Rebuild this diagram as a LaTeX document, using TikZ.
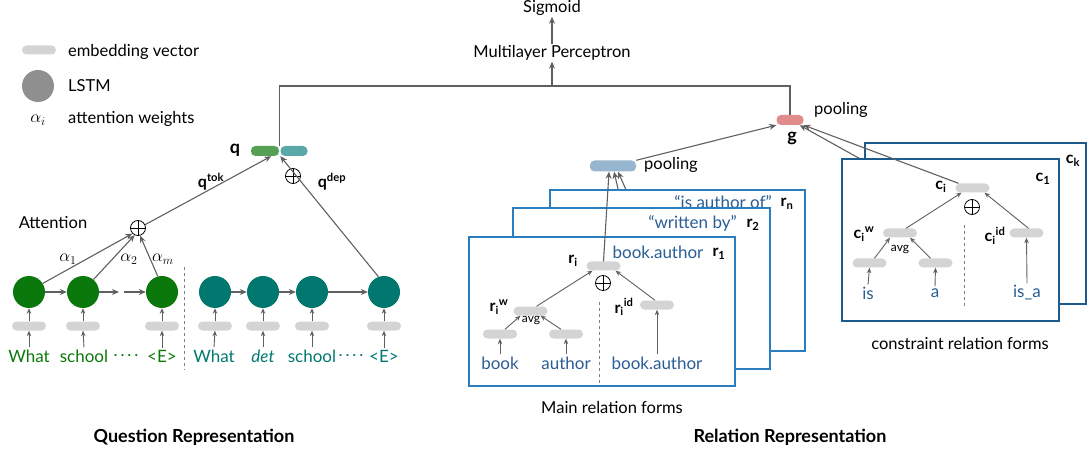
\documentclass[tikz,border=0pt]{standalone}
\usepackage{fontspec}
\setmainfont{Lato}
\usetikzlibrary{arrows.meta,positioning}

\definecolor{lnc}{HTML}{606060}
\definecolor{embc}{HTML}{D4D4D4}
\definecolor{lstmc}{HTML}{8F8F8F}
\definecolor{grn}{HTML}{0A780A}
\definecolor{tea}{HTML}{00786F}
\definecolor{qgrn}{HTML}{55A055}
\definecolor{qtea}{HTML}{5AA8A8}
\definecolor{txtblue}{HTML}{2B5D95}
\definecolor{rbord}{HTML}{2A7DBF}
\definecolor{cbord}{HTML}{1D5B8C}
\definecolor{poolc}{HTML}{97B5CF}
\definecolor{gpink}{HTML}{E08C8C}

\tikzset{
  x=1pt, y=-1pt,
  every node/.style={font=\fontsize{16.5}{19}\selectfont, inner sep=1pt},
  ln/.style={draw=lnc, line width=1.1pt},
  arr/.style={ln, -{Stealth[length=7pt,width=6pt]}},
  sarr/.style={draw=lnc, line width=0.9pt, -{Stealth[length=5.5pt,width=4.5pt]}},
  emb/.style={fill=embc, rounded corners=4.5pt, minimum width=34pt, minimum height=9pt, inner sep=0pt},
  bar/.style={rounded corners=4.5pt, minimum height=10pt, inner sep=0pt},
  lstm/.style={circle, minimum size=32pt, inner sep=0pt},
  opl/.style={circle, draw=black, line width=0.8pt, minimum size=15pt, inner sep=0pt,
    path picture={\draw[line width=0.8pt] (path picture bounding box.north) -- (path picture bounding box.south)
      (path picture bounding box.west) -- (path picture bounding box.east);}},
  sep/.style={draw=lnc!80, line width=0.9pt, dashed},
  rbox/.style={draw=rbord, line width=1.6pt, fill=white, anchor=north west, inner sep=0pt},
  cbox/.style={draw=cbord, line width=1.8pt, fill=white, anchor=north west, inner sep=0pt},
  lbl/.style={font=\fontsize{16}{18}\selectfont\bfseries},
  word/.style={font=\fontsize{17}{19}\selectfont, inner sep=2pt},
  alp/.style={font=\fontsize{18}{20}\selectfont},
  avgt/.style={font=\fontsize{12}{13}\selectfont, inner sep=0pt},
  ttl/.style={font=\fontsize{18}{20}\selectfont\bfseries},
}

\begin{document}
\begin{tikzpicture}
\useasboundingbox (0,0) rectangle (1089,454);

% ---------- legend ----------
\node[emb] (legemb) at (39,50) {};
\node[anchor=west] (legembt) at (67,52) {embedding vector};
\node[lstm, fill=lstmc] (leglstm) at (38,86) {};
\node[anchor=west] (leglstmt) at (67,86) {LSTM};
\node[alp] (legalpha) at (38,120) {$\alpha_i$};
\node[anchor=west] (legalphat) at (67,119) {attention weights};

% ---------- question encoder ----------
\foreach \n/\x in {g1/29, g2/83, g3/162} {
  \node[lstm, fill=grn] (\n) at (\x,292) {};
  \node[emb] (e\n) at (\x,326) {};
  \draw[sarr] (e\n.north) -- (\n.south);
}
\foreach \n/\x in {t1/215, t2/263, t3/312, t4/384} {
  \node[lstm, fill=tea] (\n) at (\x,292) {};
  \node[emb] (e\n) at (\x,326) {};
  \draw[sarr] (e\n.north) -- (\n.south);
}
\node[word, text=grn] (w1) at (29,356) {What};
\node[word, text=grn] (w2) at (84,356) {school};
\node[word, text=grn] (wd) at (126,356) {.\,.\,.\,.};
\node[word, text=grn] (w3) at (162,356) {<E>};
\node[word, text=tea] (v1) at (214,356) {What};
\node[word, text=tea] (v2) at (263,356) {\itshape det};
\node[word, text=tea] (v3) at (312,356) {school};
\node[word, text=tea] (vd) at (351,356) {.\,.\,.\,.};
\node[word, text=tea] (v4) at (384,356) {<E>};
\foreach \w/\e in {w1/eg1, w2/eg2, w3/eg3, v1/et1, v2/et2, v3/et3, v4/et4}
  \draw[sarr] (\w.north) -- (\e.south);

\coordinate (gapa) at (119,292);
\coordinate (gapb) at (124,292);
\draw[arr] (g1) -- (g2);
\draw[arr] (g2) -- (gapa);
\draw[arr] (gapb) -- (g3);
\draw[arr] (t1) -- (t2);
\draw[arr] (t2) -- (t3);
\draw[arr] (t3) -- (t4);

\coordinate (qsepa) at (184,267);
\coordinate (qsepb) at (184,370);
\draw[sep] (qsepa) -- (qsepb);

\node[opl] (att) at (138,228) {};
\node (attt) at (53,223) {Attention};
\draw[arr] (g1.32) -- (att.south west);
\draw[arr] (g2.50) -- (att.-115);
\draw[arr] (g3.105) -- (att.-75);
\node[alp] (a1) at (68,259) {$\alpha_1$};
\node[alp] (a2) at (129,259) {$\alpha_2$};
\node[alp] (am) at (163,259) {$\alpha_m$};

% ---------- question vector ----------
\node[bar, fill=qgrn, minimum width=28pt] (qa) at (265,151) {};
\node[bar, fill=qtea, minimum width=27pt] (qb) at (294,151) {};
\node[lbl, font=\fontsize{18}{20}\selectfont\bfseries] (ql) at (235,150) {q};
\node[opl] (qop) at (293,176) {};
\draw[arr] (att.25) -- ([xshift=-8pt]qa.south east);
\node[lbl] (qtok) at (211,182) {q\textsuperscript{tok}};
\draw[arr] (t4.110) -- (qb.south west);
\node[lbl] (qdep) at (332,182) {q\textsuperscript{dep}};

% ---------- output ----------
\node (mlp) at (552,53) {Multilayer Perceptron};
\node (sig) at (552,8) {Sigmoid};
\coordinate (mlpin) at (552,86);
\node[bar, fill=gpink, minimum width=27pt] (gbar) at (790,120) {};
\node[lbl, font=\fontsize{18}{20}\selectfont\bfseries] (gl) at (792,138) {g};
\node[anchor=west] (gpool) at (813,110) {pooling};
\draw[ln] ([xshift=0.5pt]qa.north east) |- (mlpin) -| (gbar.north);
\draw[arr] (mlpin) -- (mlp.south);
\draw[arr] (mlp.north) -- (sig.south);

\node[bar, fill=poolc, minimum width=46pt, minimum height=11pt] (pr) at (613,166) {};
\node[anchor=west] (rpool) at (643,165) {pooling};
\draw[arr] (pr.north east) -- (gbar.south west);

% ---------- main relation forms ----------
\coordinate (hidn) at (627,192);
\coordinate (hid2) at (623,210);
\draw[arr] (hidn) -- ([xshift=5pt]pr.south);
\draw[arr] (hid2) -- ([xshift=1pt]pr.south);

\node[rbox, minimum width=255pt, minimum height=161pt] (boxn) at (549,189) {};
\node[anchor=east, text=txtblue, word] (tn) at (774,202) {``is author of''};
\node[lbl] (rn) at (787,204) {r\textsubscript{n}};
\node[rbox, minimum width=257pt, minimum height=161pt] (box2) at (512,207) {};
\node[anchor=east, text=txtblue, word] (t2x) at (739,223) {``written by''};
\node[lbl] (r2) at (753,225) {r\textsubscript{2}};
\node[rbox, minimum width=266pt, minimum height=149pt] (box1) at (468,236) {};
\node[text=txtblue, word] (t1x) at (658,252) {book.author};
\node[lbl] (r1) at (719,254) {r\textsubscript{1}};

\node[emb] (ri) at (603.5,266) {};
\node[lbl] (ril) at (573,261) {r\textsubscript{i}};
\node[opl] (rop) at (603,283) {};
\node[emb] (riw) at (530.5,311) {};
\node[lbl] (riwl) at (499,307) {r\textsubscript{i}\textsuperscript{w}};
\node[avgt] (ravg) at (531,321) {avg};
\node[emb] (rb1) at (500,334) {};
\node[emb] (rb2) at (566,334) {};
\node[word, text=txtblue] (wbook) at (500,363) {book};
\node[word, text=txtblue] (wauth) at (566,363) {author};
\node[emb] (riid) at (657,305) {};
\node[lbl] (riidl) at (624,307) {r\textsubscript{i}\textsuperscript{id}};
\node[word, text=txtblue] (wba) at (657,363) {book.author};
\coordinate (rsepa) at (599,302);
\coordinate (rsepb) at (599,384);
\draw[sep] (rsepa) -- (rsepb);

\draw[sarr] (wbook.north) -- (rb1.south);
\draw[sarr] (wauth.north) -- (rb2.south);
\draw[sarr] ([xshift=5pt]rb1.north) -- ([xshift=-10pt]riw.south);
\draw[sarr] ([xshift=-5pt]rb2.north) -- ([xshift=10pt]riw.south);
\draw[sarr] ([xshift=6pt]riw.north) -- ([xshift=-11pt]ri.south);
\draw[sarr] ([xshift=-2pt]riid.north) -- ([xshift=12pt]ri.south);
\draw[sarr] (wba.north) -- (riid.south);
\draw[arr] (ri.north) -- ([xshift=-4pt]pr.south);

\node (mainf) at (612,407) {Main relation forms};

% ---------- constraint relation forms ----------
\coordinate (hidk) at (864,161);
\draw[arr] (hidk) -- ([xshift=-4pt]gbar.south east);

\node[cbox, minimum width=221pt, minimum height=161pt] (boxk) at (864,142) {};
\node[lbl] (ck) at (1073,161) {c\textsubscript{k}};
\node[cbox, minimum width=217pt, minimum height=162pt] (boxc1) at (841,158) {};
\node[lbl] (c1) at (1043,179) {c\textsubscript{1}};

\node[emb] (ci) at (972.5,188) {};
\node[lbl] (cil) at (941,187) {c\textsubscript{i}};
\node[opl] (cop) at (972,207) {};
\node[emb] (ciw) at (900,233) {};
\node[lbl] (ciwl) at (864,234) {c\textsubscript{i}\textsuperscript{w}};
\node[avgt] (cavg) at (900,250) {avg};
\node[emb] (cb1) at (869.5,263) {};
\node[emb] (cb2) at (935.5,263) {};
\node[word, text=txtblue] (wis) at (868,293) {is};
\node[word, text=txtblue] (wa) at (935,293) {a};
\node[emb] (ciid) at (1026.5,233) {};
\node[lbl] (ciidl) at (995,236) {c\textsubscript{i}\textsuperscript{id}};
\node[word, text=txtblue] (wisa) at (1027,293) {is\_a};
\coordinate (csepa) at (964,225);
\coordinate (csepb) at (964,307);
\draw[sep] (csepa) -- (csepb);

\draw[sarr] (wis.north) -- (cb1.south);
\draw[sarr] (wa.north) -- (cb2.south);
\draw[sarr] ([xshift=5pt]cb1.north) -- ([xshift=-10pt]ciw.south);
\draw[sarr] ([xshift=-5pt]cb2.north) -- ([xshift=10pt]ciw.south);
\draw[sarr] ([xshift=6pt]ciw.north) -- ([xshift=-11pt]ci.south);
\draw[sarr] ([xshift=2pt]ciid.north) -- ([xshift=12pt]ci.south);
\draw[sarr] (wisa.north) -- (ciid.south);
\draw[arr] ([xshift=-14pt]ci.north) -- (gbar.south east);

\node (consf) at (960,343) {constraint relation forms};

% ---------- section titles ----------
\node[ttl] (qrep) at (194,437) {Question Representation};
\node[ttl] (rrep) at (790,437) {Relation Representation};
\end{tikzpicture}
\end{document}
